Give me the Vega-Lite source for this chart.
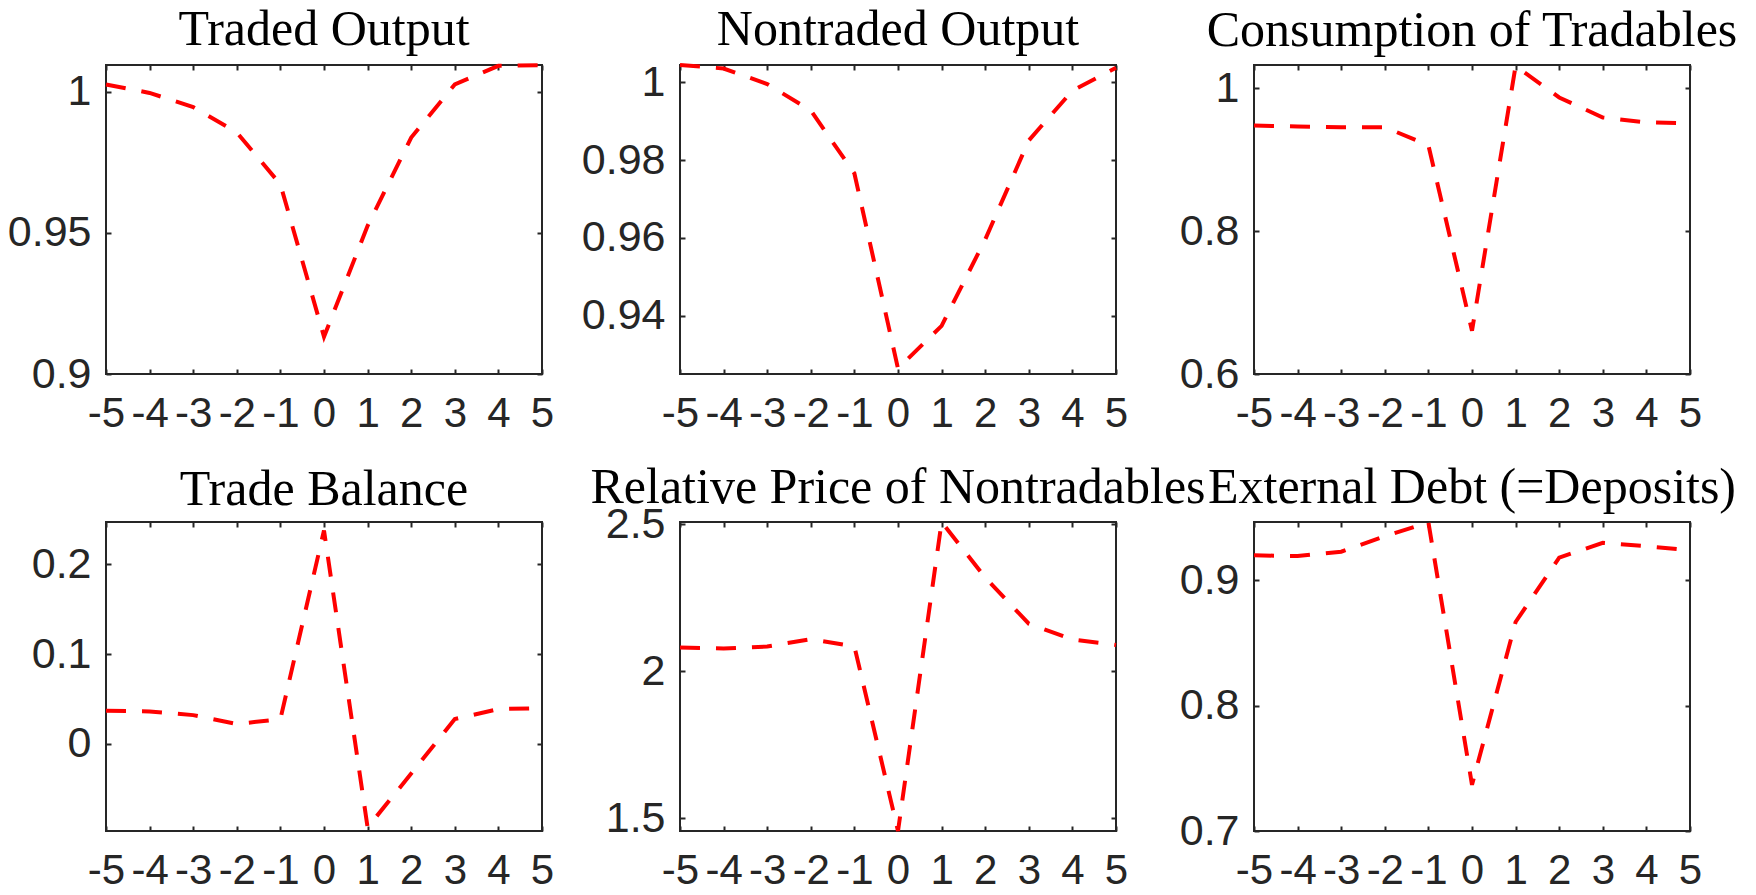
{
  "$schema": "https://vega.github.io/schema/vega-lite/v6.json",
  "background": "white",
  "padding": {"left": 6, "top": 4, "right": 5, "bottom": 0},
  "config": {
    "view": {"stroke": "#262626", "strokeWidth": 2},
    "axis": {"grid": false, "domain": false, "tickColor": "#262626", "tickWidth": 2, "tickSize": -5, "labelFont": "Liberation Sans", "labelFontSize": 43, "labelColor": "#262626", "title": null, "labelExpr": "'' + datum.value", "labelOverlap": false, "labelFlush": false, "labelBound": false},
    "axisBottom": {"labelBaseline": "alphabetic", "labelFontSize": 42},
    "title": {"font": "Liberation Serif", "fontSize": 50, "fontWeight": "normal", "color": "#000000", "frame": "group", "offset": 2},
    "line": {"clip": true}
  },
  "datasets": {
    "d": [
      {"panel": "p1", "t": -5, "v": 1.0026}, {"panel": "p1", "t": -4, "v": 0.9996}, {"panel": "p1", "t": -3, "v": 0.9946}, {"panel": "p1", "t": -2, "v": 0.9856}, {"panel": "p1", "t": -1, "v": 0.9672}, {"panel": "p1", "t": 0, "v": 0.9132}, {"panel": "p1", "t": 1, "v": 0.9525}, {"panel": "p1", "t": 2, "v": 0.9838}, {"panel": "p1", "t": 3, "v": 1.0026}, {"panel": "p1", "t": 4, "v": 1.0092}, {"panel": "p1", "t": 5, "v": 1.0094},
      {"panel": "p2", "t": -5, "v": 1.0045}, {"panel": "p2", "t": -4, "v": 1.0036}, {"panel": "p2", "t": -3, "v": 0.9996}, {"panel": "p2", "t": -2, "v": 0.9928}, {"panel": "p2", "t": -1, "v": 0.9766}, {"panel": "p2", "t": 0, "v": 0.9264}, {"panel": "p2", "t": 1, "v": 0.9374}, {"panel": "p2", "t": 2, "v": 0.9596}, {"panel": "p2", "t": 3, "v": 0.9851}, {"panel": "p2", "t": 4, "v": 0.9979}, {"panel": "p2", "t": 5, "v": 1.0038},
      {"panel": "p3", "t": -5, "v": 0.9477}, {"panel": "p3", "t": -4, "v": 0.9463}, {"panel": "p3", "t": -3, "v": 0.9454}, {"panel": "p3", "t": -2, "v": 0.9454}, {"panel": "p3", "t": -1, "v": 0.92}, {"panel": "p3", "t": 0, "v": 0.6606}, {"panel": "p3", "t": 1, "v": 1.031}, {"panel": "p3", "t": 2, "v": 0.987}, {"panel": "p3", "t": 3, "v": 0.959}, {"panel": "p3", "t": 4, "v": 0.952}, {"panel": "p3", "t": 5, "v": 0.951},
      {"panel": "p4", "t": -5, "v": 0.0368}, {"panel": "p4", "t": -4, "v": 0.0361}, {"panel": "p4", "t": -3, "v": 0.032}, {"panel": "p4", "t": -2, "v": 0.0221}, {"panel": "p4", "t": -1, "v": 0.0276}, {"panel": "p4", "t": 0, "v": 0.2376}, {"panel": "p4", "t": 1, "v": -0.093}, {"panel": "p4", "t": 2, "v": -0.0331}, {"panel": "p4", "t": 3, "v": 0.0276}, {"panel": "p4", "t": 4, "v": 0.0387}, {"panel": "p4", "t": 5, "v": 0.0398},
      {"panel": "p5", "t": -5, "v": 2.0807}, {"panel": "p5", "t": -4, "v": 2.077}, {"panel": "p5", "t": -3, "v": 2.084}, {"panel": "p5", "t": -2, "v": 2.1087}, {"panel": "p5", "t": -1, "v": 2.084}, {"panel": "p5", "t": 0, "v": 1.457}, {"panel": "p5", "t": 1, "v": 2.507}, {"panel": "p5", "t": 2, "v": 2.318}, {"panel": "p5", "t": 3, "v": 2.1614}, {"panel": "p5", "t": 4, "v": 2.108}, {"panel": "p5", "t": 5, "v": 2.089},
      {"panel": "p6", "t": -5, "v": 0.9197}, {"panel": "p6", "t": -4, "v": 0.9192}, {"panel": "p6", "t": -3, "v": 0.9226}, {"panel": "p6", "t": -2, "v": 0.935}, {"panel": "p6", "t": -1, "v": 0.946}, {"panel": "p6", "t": 0, "v": 0.7368}, {"panel": "p6", "t": 1, "v": 0.8666}, {"panel": "p6", "t": 2, "v": 0.9179}, {"panel": "p6", "t": 3, "v": 0.9297}, {"panel": "p6", "t": 4, "v": 0.927}, {"panel": "p6", "t": 5, "v": 0.9237}
    ]
  },
  "data": {"name": "d"},
  "bounds": "flush",
  "columns": 3,
  "spacing": {"row": 148, "column": 138},
  "concat": [
    {
      "width": 436, "height": 309,
      "title": {"text": "Traded Output"},
      "transform": [{"filter": "datum.panel === 'p1'"}],
      "layer": [
        {"mark": {"type": "line", "color": "#ff0000", "strokeWidth": 4, "strokeDash": [20, 16]},
         "encoding": {
           "x": {"field": "t", "type": "quantitative", "scale": {"domain": [-5, 5], "nice": false, "zero": false}, "axis": {"orient": "bottom", "values": [-5,-4,-3,-2,-1,0,1,2,3,4,5], "labelPadding": 57}},
           "y": {"field": "v", "type": "quantitative", "scale": {"domain": [0.9, 1.0095], "nice": false, "zero": false}, "axis": {"orient": "left", "values": [0.9, 0.95, 1], "labelPadding": 20}}}},
        {"mark": {"type": "line", "opacity": 0},
         "encoding": {
           "x": {"field": "t", "type": "quantitative", "axis": {"orient": "top", "values": [-5,-4,-3,-2,-1,0,1,2,3,4,5], "labels": false}},
           "y": {"field": "v", "type": "quantitative", "axis": {"orient": "right", "values": [0.9, 0.95, 1], "labels": false}}}}
      ],
      "resolve": {"axis": {"x": "independent", "y": "independent"}}
    },
    {
      "width": 436, "height": 309,
      "title": {"text": "Nontraded Output"},
      "transform": [{"filter": "datum.panel === 'p2'"}],
      "layer": [
        {"mark": {"type": "line", "color": "#ff0000", "strokeWidth": 4, "strokeDash": [20, 16]},
         "encoding": {
           "x": {"field": "t", "type": "quantitative", "scale": {"domain": [-5, 5], "nice": false, "zero": false}, "axis": {"orient": "bottom", "values": [-5,-4,-3,-2,-1,0,1,2,3,4,5], "labelPadding": 57}},
           "y": {"field": "v", "type": "quantitative", "scale": {"domain": [0.925, 1.0045], "nice": false, "zero": false}, "axis": {"orient": "left", "values": [0.94, 0.96, 0.98, 1], "labelPadding": 20}}}},
        {"mark": {"type": "line", "opacity": 0},
         "encoding": {
           "x": {"field": "t", "type": "quantitative", "axis": {"orient": "top", "values": [-5,-4,-3,-2,-1,0,1,2,3,4,5], "labels": false}},
           "y": {"field": "v", "type": "quantitative", "axis": {"orient": "right", "values": [0.94, 0.96, 0.98, 1], "labels": false}}}}
      ],
      "resolve": {"axis": {"x": "independent", "y": "independent"}}
    },
    {
      "width": 436, "height": 309,
      "title": {"text": "Consumption of Tradables"},
      "transform": [{"filter": "datum.panel === 'p3'"}],
      "layer": [
        {"mark": {"type": "line", "color": "#ff0000", "strokeWidth": 4, "strokeDash": [20, 16]},
         "encoding": {
           "x": {"field": "t", "type": "quantitative", "scale": {"domain": [-5, 5], "nice": false, "zero": false}, "axis": {"orient": "bottom", "values": [-5,-4,-3,-2,-1,0,1,2,3,4,5], "labelPadding": 57}},
           "y": {"field": "v", "type": "quantitative", "scale": {"domain": [0.6, 1.0324], "nice": false, "zero": false}, "axis": {"orient": "left", "values": [0.6, 0.8, 1], "labelPadding": 20}}}},
        {"mark": {"type": "line", "opacity": 0},
         "encoding": {
           "x": {"field": "t", "type": "quantitative", "axis": {"orient": "top", "values": [-5,-4,-3,-2,-1,0,1,2,3,4,5], "labels": false}},
           "y": {"field": "v", "type": "quantitative", "axis": {"orient": "right", "values": [0.6, 0.8, 1], "labels": false}}}}
      ],
      "resolve": {"axis": {"x": "independent", "y": "independent"}}
    },
    {
      "width": 436, "height": 309,
      "title": {"text": "Trade Balance", "dy": -4},
      "transform": [{"filter": "datum.panel === 'p4'"}],
      "layer": [
        {"mark": {"type": "line", "color": "#ff0000", "strokeWidth": 4, "strokeDash": [20, 16]},
         "encoding": {
           "x": {"field": "t", "type": "quantitative", "scale": {"domain": [-5, 5], "nice": false, "zero": false}, "axis": {"orient": "bottom", "values": [-5,-4,-3,-2,-1,0,1,2,3,4,5], "labelPadding": 57}},
           "y": {"field": "v", "type": "quantitative", "scale": {"domain": [-0.097, 0.247], "nice": false, "zero": false}, "axis": {"orient": "left", "values": [0, 0.1, 0.2], "labelPadding": 20}}}},
        {"mark": {"type": "line", "opacity": 0},
         "encoding": {
           "x": {"field": "t", "type": "quantitative", "axis": {"orient": "top", "values": [-5,-4,-3,-2,-1,0,1,2,3,4,5], "labels": false}},
           "y": {"field": "v", "type": "quantitative", "axis": {"orient": "right", "values": [0, 0.1, 0.2], "labels": false}}}}
      ],
      "resolve": {"axis": {"x": "independent", "y": "independent"}}
    },
    {
      "width": 436, "height": 309,
      "title": {"text": "Relative Price of Nontradables", "dy": 12},
      "transform": [{"filter": "datum.panel === 'p5'"}],
      "layer": [
        {"mark": {"type": "line", "color": "#ff0000", "strokeWidth": 4, "strokeDash": [20, 16]},
         "encoding": {
           "x": {"field": "t", "type": "quantitative", "scale": {"domain": [-5, 5], "nice": false, "zero": false}, "axis": {"orient": "bottom", "values": [-5,-4,-3,-2,-1,0,1,2,3,4,5], "labelPadding": 57}},
           "y": {"field": "v", "type": "quantitative", "scale": {"domain": [1.457, 2.507], "nice": false, "zero": false}, "axis": {"orient": "left", "values": [1.5, 2, 2.5], "labelPadding": 20}}}},
        {"mark": {"type": "line", "opacity": 0},
         "encoding": {
           "x": {"field": "t", "type": "quantitative", "axis": {"orient": "top", "values": [-5,-4,-3,-2,-1,0,1,2,3,4,5], "labels": false}},
           "y": {"field": "v", "type": "quantitative", "axis": {"orient": "right", "values": [1.5, 2, 2.5], "labels": false}}}}
      ],
      "resolve": {"axis": {"x": "independent", "y": "independent"}}
    },
    {
      "width": 436, "height": 309,
      "title": {"text": "External Debt (=Deposits)", "dy": 1},
      "transform": [{"filter": "datum.panel === 'p6'"}],
      "layer": [
        {"mark": {"type": "line", "color": "#ff0000", "strokeWidth": 4, "strokeDash": [20, 16]},
         "encoding": {
           "x": {"field": "t", "type": "quantitative", "scale": {"domain": [-5, 5], "nice": false, "zero": false}, "axis": {"orient": "bottom", "values": [-5,-4,-3,-2,-1,0,1,2,3,4,5], "labelPadding": 57}},
           "y": {"field": "v", "type": "quantitative", "scale": {"domain": [0.7, 0.9463], "nice": false, "zero": false}, "axis": {"orient": "left", "values": [0.7, 0.8, 0.9], "labelPadding": 20}}}},
        {"mark": {"type": "line", "opacity": 0},
         "encoding": {
           "x": {"field": "t", "type": "quantitative", "axis": {"orient": "top", "values": [-5,-4,-3,-2,-1,0,1,2,3,4,5], "labels": false}},
           "y": {"field": "v", "type": "quantitative", "axis": {"orient": "right", "values": [0.7, 0.8, 0.9], "labels": false}}}}
      ],
      "resolve": {"axis": {"x": "independent", "y": "independent"}}
    }
  ]
}
